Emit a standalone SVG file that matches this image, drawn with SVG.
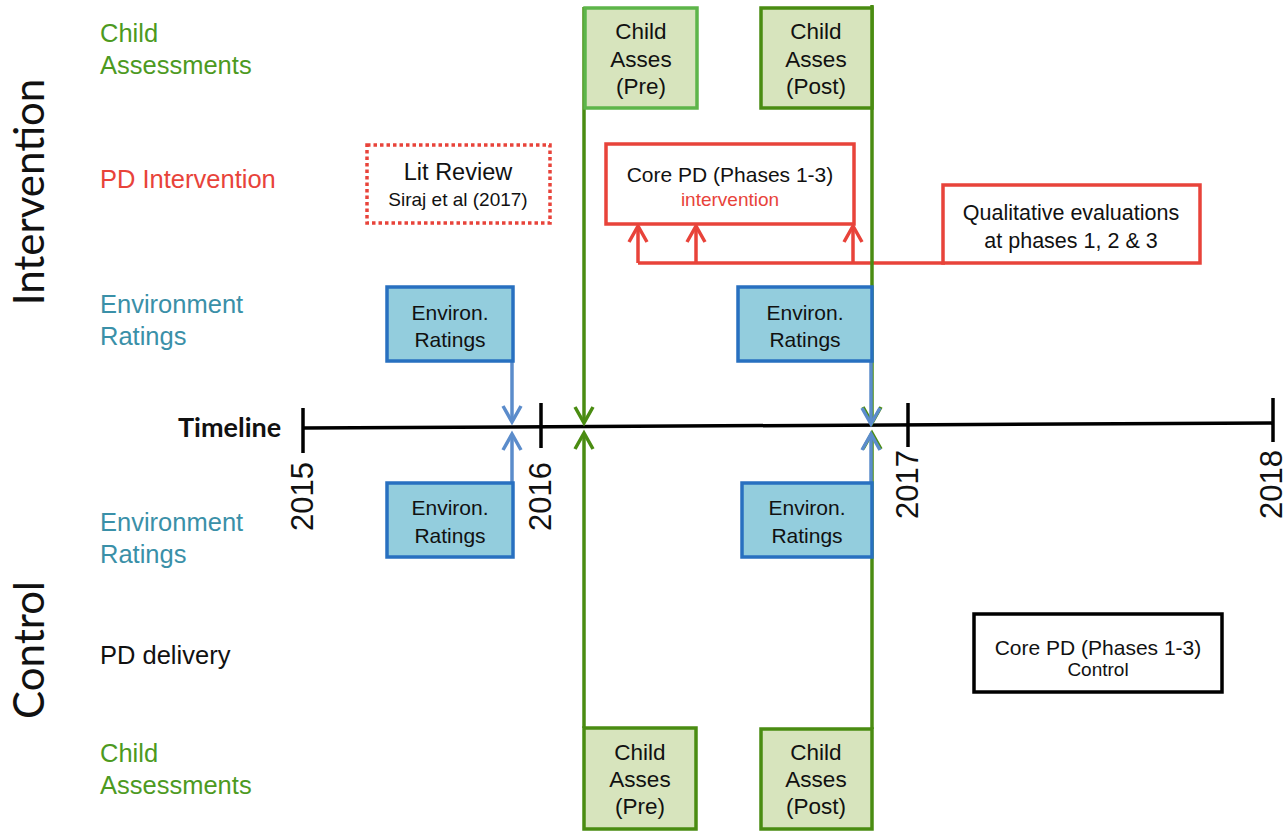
<svg xmlns="http://www.w3.org/2000/svg" width="1288" height="831" viewBox="0 0 1288 831">
<style>
text{font-family:"Liberation Sans",Arial,sans-serif;fill:#111}
.lbl{font-size:25.5px}
.g{fill:#4d9a1f}.r{fill:#e8433a}.t{fill:#3a90a8}
.big{font-family:Lato,"Open Sans",sans-serif;font-size:42px;fill:#111}
.yr{font-size:31px;text-anchor:end}
.c{text-anchor:middle}
.gbox{fill:#d7e4bd;stroke:#4a8c12;stroke-width:3.5}
.ebox{fill:#93cddd;stroke:#2870c0;stroke-width:3.5}
.rbox{fill:#fff;stroke:#e8433a;stroke-width:3.5}
.bx22{font-size:22.5px}.bx21{font-size:21px}
.gl{stroke:#4a8c12;stroke-width:3.5;fill:none}
.bl{stroke:#5b8ccb;stroke-width:3.5;fill:none}
.rl{stroke:#e8433a;stroke-width:3.5;fill:none}
.kl{stroke:#000;stroke-width:3.5;fill:none}
</style>
<defs>
<marker id="mg" viewBox="0 0 18 20" refX="17" refY="10" markerWidth="18" markerHeight="20" markerUnits="userSpaceOnUse" orient="auto" overflow="visible"><path d="M1,1 L17,10 L1,19" fill="none" stroke="#4a8c12" stroke-width="3.5"/></marker>
<marker id="mb" viewBox="0 0 18 20" refX="17" refY="10" markerWidth="18" markerHeight="20" markerUnits="userSpaceOnUse" orient="auto" overflow="visible"><path d="M1,1 L17,10 L1,19" fill="none" stroke="#5b8ccb" stroke-width="3.5"/></marker>
<marker id="mr" viewBox="0 0 18 20" refX="17" refY="10" markerWidth="18" markerHeight="20" markerUnits="userSpaceOnUse" orient="auto" overflow="visible"><path d="M1,1 L17,10 L1,19" fill="none" stroke="#e8433a" stroke-width="3.5"/></marker>
</defs>
<rect width="1288" height="831" fill="#fff"/>

<g id="side-labels">
<text class="big c" transform="translate(44,192) rotate(-90)">Intervention</text>
<text class="big c" transform="translate(44,650) rotate(-90)">Control</text>
<text class="lbl g" x="100" y="42">Child</text>
<text class="lbl g" x="100" y="74">Assessments</text>
<text class="lbl r" x="100" y="188">PD Intervention</text>
<text class="lbl t" x="100" y="313">Environment</text>
<text class="lbl t" x="100" y="345">Ratings</text>
<text class="lbl t" x="100" y="531">Environment</text>
<text class="lbl t" x="100" y="563">Ratings</text>
<text class="lbl" x="100" y="664">PD delivery</text>
<text class="lbl g" x="100" y="762">Child</text>
<text class="lbl g" x="100" y="794">Assessments</text>
</g>

<g id="timeline">
<line class="kl" x1="303" y1="428" x2="1273" y2="423"/>
<line class="kl" x1="303" y1="408" x2="303" y2="453"/>
<line class="kl" x1="541" y1="403" x2="541" y2="448"/>
<line class="kl" x1="908" y1="403" x2="908" y2="447"/>
<line class="kl" x1="1273" y1="398" x2="1273" y2="442"/>
<text x="178" y="437" style="font-family:Lato,'Open Sans',sans-serif;font-weight:700;font-size:27px">Timeline</text>
<text class="yr" transform="translate(313,462) rotate(-90)">2015</text>
<text class="yr" transform="translate(551,462) rotate(-90)">2016</text>
<text class="yr" transform="translate(918,450) rotate(-90)">2017</text>
<text class="yr" transform="translate(1282,450) rotate(-90)">2018</text>
</g>

<g id="connectors">
<polyline class="rl" points="945,263 638,263"/>
<line class="rl" x1="638" y1="263" x2="638" y2="226" marker-end="url(#mr)"/>
<line class="rl" x1="696" y1="263" x2="696" y2="226" marker-end="url(#mr)"/>
<line class="rl" x1="853" y1="263" x2="853" y2="226" marker-end="url(#mr)"/>
<line class="gl" x1="584" y1="7" x2="584" y2="423" marker-end="url(#mg)"/>
<line class="gl" x1="584" y1="728" x2="584" y2="433" marker-end="url(#mg)"/>
<line class="gl" x1="872" y1="5" x2="872" y2="423" marker-end="url(#mg)"/>
<line class="gl" x1="872" y1="729" x2="872" y2="433" marker-end="url(#mg)"/>
<line class="bl" x1="512" y1="361" x2="512" y2="422" marker-end="url(#mb)"/>
<line class="bl" x1="512" y1="483" x2="512" y2="434" marker-end="url(#mb)"/>
<line class="bl" x1="871" y1="361" x2="871" y2="424" marker-end="url(#mb)"/>
<line class="bl" x1="871" y1="483" x2="871" y2="434" marker-end="url(#mb)"/>
</g>

<g id="child-pre-top">
<rect class="gbox" x="585" y="8" width="112" height="100" style="stroke:#5db54a"/>
<text class="bx22 c" x="641" y="39">Child</text>
<text class="bx22 c" x="641" y="67">Asses</text>
<text class="bx22 c" x="641" y="94">(Pre)</text>
</g>
<g id="child-post-top">
<rect class="gbox" x="761" y="8" width="111" height="100"/>
<text class="bx22 c" x="816" y="39">Child</text>
<text class="bx22 c" x="816" y="67">Asses</text>
<text class="bx22 c" x="816" y="94">(Post)</text>
</g>
<g id="child-pre-bottom">
<rect class="gbox" x="584" y="728" width="112" height="101"/>
<text class="bx22 c" x="640" y="760">Child</text>
<text class="bx22 c" x="640" y="787">Asses</text>
<text class="bx22 c" x="640" y="814">(Pre)</text>
</g>
<g id="child-post-bottom">
<rect class="gbox" x="761" y="729" width="111" height="100"/>
<text class="bx22 c" x="816" y="760">Child</text>
<text class="bx22 c" x="816" y="787">Asses</text>
<text class="bx22 c" x="816" y="814">(Post)</text>
</g>

<g id="lit-review">
<rect x="367" y="145" width="183" height="78" fill="#fff" stroke="#e8433a" stroke-width="3.5" stroke-dasharray="3.5,3"/>
<text class="c" x="458" y="180" style="font-size:23.5px">Lit Review</text>
<text class="c" x="458" y="206" style="font-size:19px">Siraj et al (2017)</text>
</g>

<g id="core-pd-intervention">
<rect class="rbox" x="606" y="144" width="248" height="80"/>
<text class="c" x="730" y="182" style="font-size:21px">Core PD (Phases 1-3)</text>
<text class="c r" x="730" y="206" style="font-size:19px">intervention</text>
</g>

<g id="qualitative">
<rect class="rbox" x="943" y="185" width="257" height="78"/>
<text class="c" x="1071" y="220" style="font-size:21.5px">Qualitative evaluations</text>
<text class="c" x="1071" y="248" style="font-size:21.5px">at phases 1, 2 &amp; 3</text>
</g>

<g id="env-top-left">
<rect class="ebox" x="387" y="287" width="126" height="74"/>
<text class="bx21 c" x="450" y="320">Environ.</text>
<text class="bx21 c" x="450" y="347">Ratings</text>
</g>
<g id="env-top-right">
<rect class="ebox" x="738" y="287" width="134" height="74"/>
<text class="bx21 c" x="805" y="320">Environ.</text>
<text class="bx21 c" x="805" y="347">Ratings</text>
</g>
<g id="env-bottom-left">
<rect class="ebox" x="387" y="483" width="126" height="74"/>
<text class="bx21 c" x="450" y="515">Environ.</text>
<text class="bx21 c" x="450" y="543">Ratings</text>
</g>
<g id="env-bottom-right">
<rect class="ebox" x="742" y="483" width="130" height="74"/>
<text class="bx21 c" x="807" y="515">Environ.</text>
<text class="bx21 c" x="807" y="543">Ratings</text>
</g>

<g id="core-pd-control">
<rect x="974" y="614" width="248" height="78" fill="#fff" stroke="#000" stroke-width="3.5"/>
<text class="c" x="1098" y="655" style="font-size:21px">Core PD (Phases 1-3)</text>
<text class="c" x="1098" y="676" style="font-size:19px">Control</text>
</g>
</svg>
